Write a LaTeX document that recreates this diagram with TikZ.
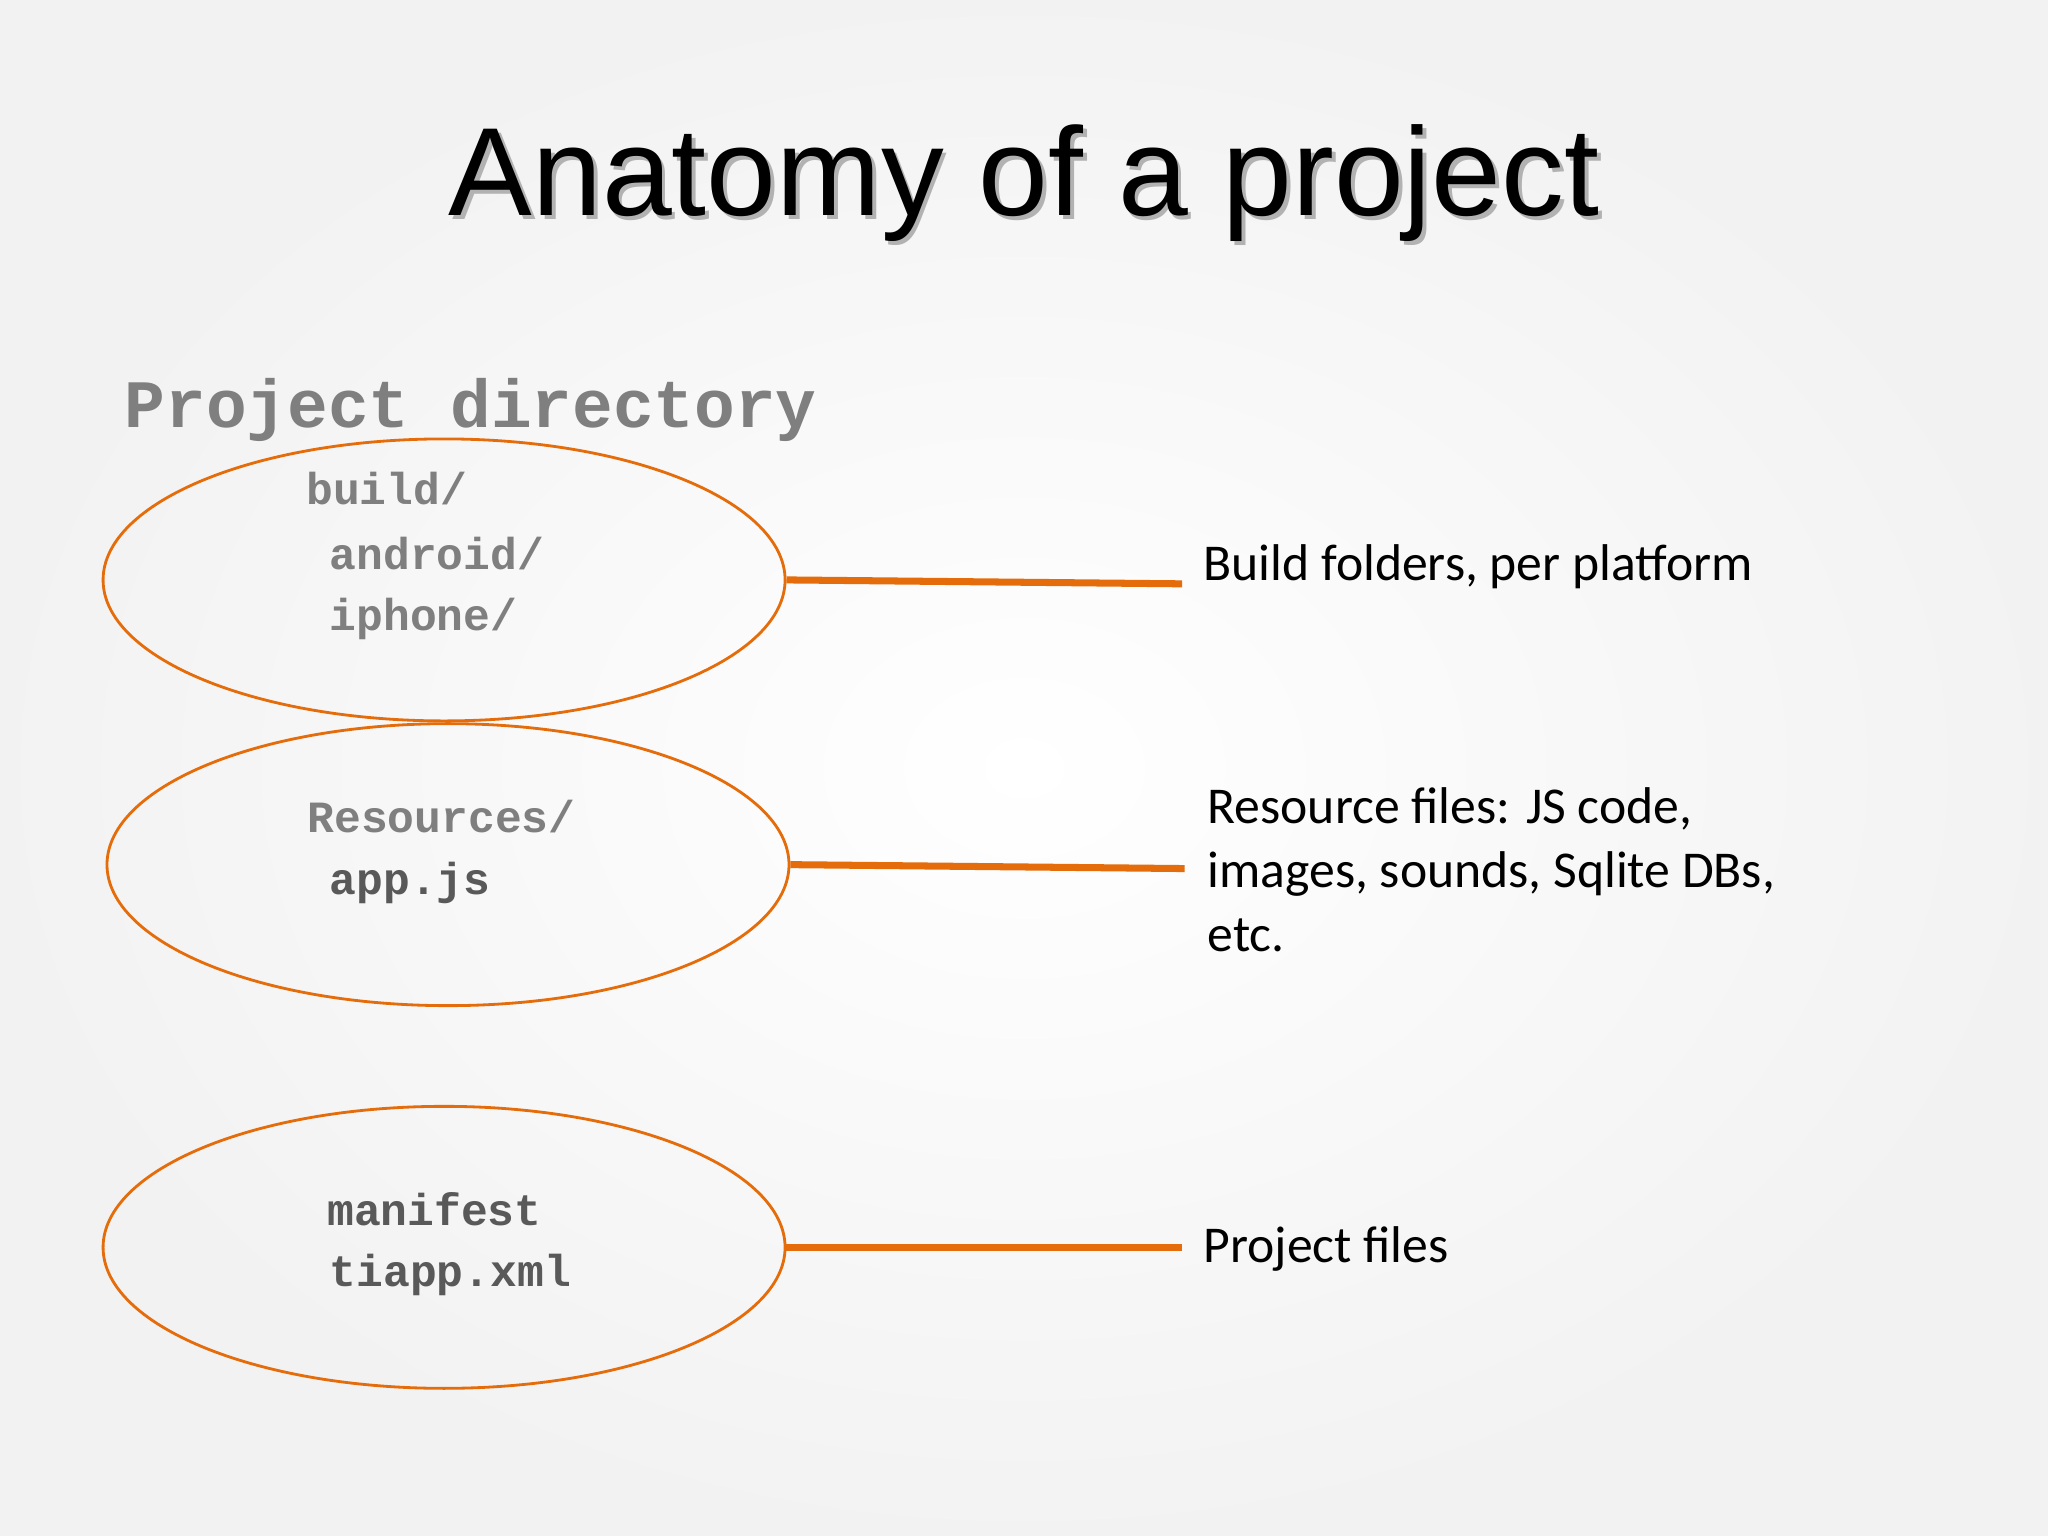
\documentclass[tikz,border=0pt]{standalone}
\usepackage{fontspec}
\setmainfont{Carlito}
\newfontfamily\monofont{Liberation Mono}
\newfontfamily\titlefont{Liberation Sans}
\usetikzlibrary{positioning,shapes.geometric,shadings}
\definecolor{SlideOrange}{HTML}{E46C0A}
\definecolor{DirGray}{HTML}{7F7F7F}
\definecolor{FileGray}{HTML}{595959}
\tikzset{
  folder/.style={draw=SlideOrange, thick, ellipse, minimum width=6.82cm, minimum height=2.82cm},
  link/.style={draw=SlideOrange, line width=2pt},
  entry/.style={anchor=west, inner sep=0pt, font=\monofont\bfseries\fontsize{12.7}{14}\selectfont},
  note/.style={anchor=west, inner sep=0pt, align=left, font=\fontsize{14.7}{18.2}\selectfont}
}
\begin{document}
\begin{tikzpicture}[x=0.01306cm, y=-0.01306cm]
  % background
  \shade[inner color=white, outer color=gray!10] (0,0) rectangle (1568,1176);
  \useasboundingbox (0,0) rectangle (1568,1176);
  % title with shadow
  \node[gray!60, font=\titlefont\fontsize{35.7}{40}\selectfont] at (787,143) {Anatomy of a project};
  \node[font=\titlefont\fontsize{35.7}{40}\selectfont] (title) at (784,140) {Anatomy of a project};
  \node[anchor=west, inner sep=0pt, DirGray, font=\monofont\bfseries\fontsize{19.3}{22}\selectfont] (dir) at (95,314) {Project directory};
  % folders
  \node[folder] (build) at (340,444) {};
  \node[folder] (res) at (343,662) {};
  \node[folder] (proj) at (340,955) {};
  \node[entry, DirGray] (b1) at (234,374) {build/};
  \node[entry, DirGray] (b2) at (252,424) {android/};
  \node[entry, DirGray] (b3) at (252,474) {iphone/};
  \node[entry, DirGray] (r1) at (235,625) {Resources/};
  \node[entry, FileGray] (r2) at (252,676) {app.js};
  \node[entry, FileGray] (p1) at (250,926) {manifest};
  \node[entry, FileGray] (p2) at (252,976) {tiapp.xml};
  % connectors and notes
  \coordinate (c1) at (905,447);
  \coordinate (c2) at (907,665);
  \coordinate (c3) at (905,955);
  \draw[link] (build.east) -- (c1);
  \draw[link] (res.east) -- (c2);
  \draw[link] (proj.east) -- (c3);
  \node[note] (n1) at (921,434) {Build folders, per platform};
  \node[note] (n2) at (924,666) {Resource files: JS code,\\images, sounds, Sqlite DBs,\\etc.};
  \node[note] (n3) at (921,956) {Project files};
\end{tikzpicture}
\end{document}
